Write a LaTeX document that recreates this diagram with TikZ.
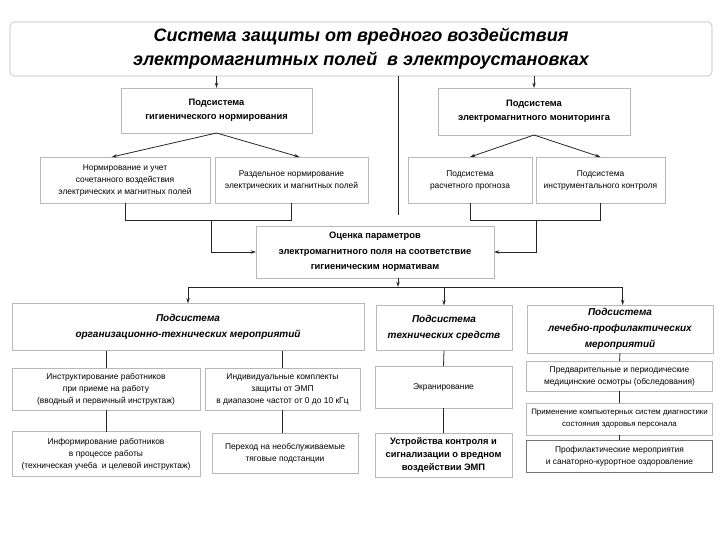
\documentclass[tikz,border=0pt]{standalone}
\usepackage{fontspec}
\setmainfont{Liberation Sans}
\usetikzlibrary{arrows.meta}
\tikzset{
  blk/.style={draw=black!28, fill=white, inner sep=1pt, outer sep=0pt, align=center},
  wh/.style 2 args={minimum width=#1*0.75pt, minimum height=#2*0.75pt},
  ttl/.style={font=\fontsize{13.5}{18}\selectfont\bfseries\itshape},
  sub/.style={font=\fontsize{7}{10.5}\selectfont\bfseries},
  subi/.style={font=\fontsize{7.5}{12}\selectfont\bfseries\itshape},
  txt/.style={font=\fontsize{6.3}{9}\selectfont},
  arr/.style={-{Stealth[length=4pt,width=2.6pt]}},
  ln/.style={line width=0.6pt, draw=black!85}
}
\begin{document}
\begin{tikzpicture}[x=0.75pt,y=0.75pt,yscale=-1,xscale=1]
\useasboundingbox (0,0) rectangle (720,540); %page of 720 x 540

% Title
\node [blk, wh={702}{54}, rounded corners=3pt, ttl] (title) at (361,49) {Система защиты от вредного воздействия\\электромагнитных полей\ \ в электроустановках};

% Upper subsystems
\node [blk, wh={191}{45}, sub] (lsub) at (216.5,110.5) {Подсистема\\гигиенического нормирования};
\node [blk, wh={192}{47}, sub] (rsub) at (534,111.5) {Подсистема\\электромагнитного мониторинга};
\node [blk, wh={170}{46}, txt] (lc1) at (125,180) {Нормирование и учет\\сочетанного воздействия\\электрических и магнитных полей};
\node [blk, wh={153}{46}, txt] (lc2) at (291.5,180) {Раздельное нормирование\\электрических и магнитных полей};
\node [blk, wh={124}{46}, txt] (rc1) at (470,180) {Подсистема\\расчетного прогноза};
\node [blk, wh={129}{46}, txt] (rc2) at (600.5,180) {Подсистема\\инструментального контроля};

% Evaluation
\node [blk, wh={238}{52}, font=\fontsize{7}{11.6}\selectfont\bfseries] (eval) at (375,252) {Оценка параметров\\электромагнитного поля на соответствие\\гигиеническим нормативам};

% Lower subsystems
\node [blk, wh={352}{47}, subi] (orgsub) at (188,327) {Подсистема\\организационно-технических мероприятий};
\node [blk, wh={136}{45}, subi] (techsub) at (444,328) {Подсистема\\технических средств};
\node [blk, wh={186}{48}, subi] (medsub) at (620,329) {Подсистема\\лечебно-профилактических\\мероприятий};

% Organisational measures
\node [blk, wh={188}{42}, txt] (oc1) at (106,389) {Инструктирование работников\\при приеме на работу\\(вводный и первичный инструктаж)};
\node [blk, wh={155}{42}, txt] (oc2) at (282.5,389) {Индивидуальные комплекты\\защиты от ЭМП\\в диапазоне частот от 0 до 10 кГц};
\node [blk, wh={188}{45}, txt] (oc3) at (106,454) {Информирование работников\\в процессе работы\\(техническая учеба\ \ и целевой инструктаж)};
\node [blk, wh={146}{40}, txt] (oc4) at (285,453) {Переход на необслуживаемые\\тяговые подстанции};

% Technical means
\node [blk, wh={137}{42}, txt] (tc1) at (443.5,387) {Экранирование};
\node [blk, wh={137}{44}, font=\fontsize{7}{9.8}\selectfont\bfseries] (tc2) at (443.5,455) {Устройства контроля и\\сигнализации о вредном\\воздействии ЭМП};

% Medical measures
\node [blk, wh={186}{30}, txt] (mc1) at (619.5,376) {Предварительные и периодические\\медицинские осмотры (обследования)};
\node [blk, wh={186}{32}, txt, font=\fontsize{5.9}{9}\selectfont, inner sep=0pt] (mc2) at (619.5,419) {Применение компьютерных систем диагностики\\состояния здоровья персонала};
\node [blk, wh={186}{32}, txt, draw=black!55] (mc3) at (619.5,456) {Профилактические мероприятия\\и санаторно-курортное оздоровление};

%Straight Lines
\draw [ln, arr] (title.south -| lsub) -- (lsub.north);
\draw [ln, arr] (title.south -| rsub) -- (rsub.north);
\coordinate (midend) at (398,215);
\draw [ln] (title.south -| midend) -- (midend);

\draw [ln, arr] (lsub.south) -- ([xshift=-10pt]lc1.north);
\draw [ln, arr] (lsub.south) -- ([xshift=6pt]lc2.north);
\draw [ln, arr] (rsub.south) -- (rc1.north);
\draw [ln, arr] (rsub.south) -- (rc2.north);

\draw [ln] (lc1.south) -- ++(0,17) -| (lc2.south);
\coordinate (ljoin) at (211,220);
\draw [ln, arr] (ljoin) |- (eval.west);
\draw [ln] (rc1.south) -- ++(0,17) -| (rc2.south);
\coordinate (rjoin) at (536,220);
\draw [ln, arr] (rjoin) |- (eval.east);

\coordinate (bus) at (398,287);
\draw [ln, arr] (eval.south -| bus) -- (bus);
\draw [ln, arr] (bus) -| (orgsub.north);
\draw [ln, arr] (bus) -| ([xshift=2pt]medsub.north);
\draw [ln, arr] (bus -| techsub) -- (techsub.north);

\draw [ln] (orgsub.south -| oc1) -- (oc1.north);
\draw [ln] (orgsub.south -| oc2) -- (oc2.north);
\draw [ln] (oc1.south) -- (oc1.south |- oc3.north);
\draw [ln] (oc2.south) -- (oc2.south |- oc4.north);

\draw [ln] (techsub.south) -- (tc1.north);
\draw [ln] (tc1.south) -- (tc2.north);

\draw [ln] (medsub.south) -- (mc1.north);
\draw [ln] (mc1.south) -- (mc2.north);
\draw [ln] (mc2.south) -- (mc3.north);

\end{tikzpicture}
\end{document}
